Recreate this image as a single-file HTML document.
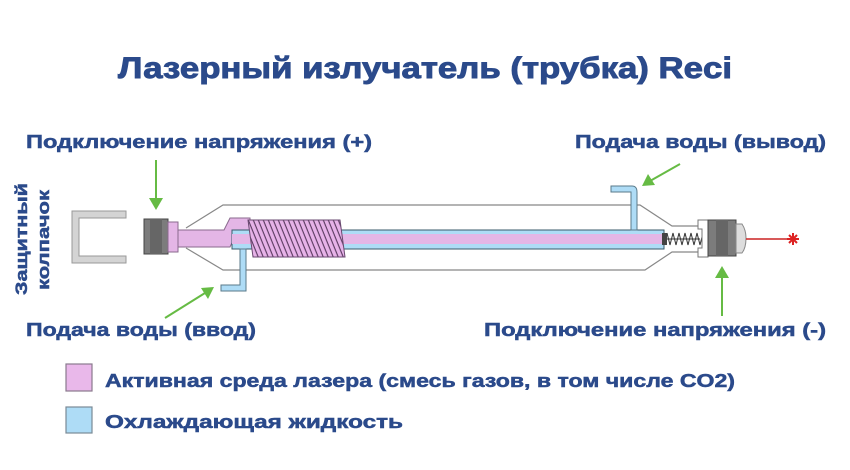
<!DOCTYPE html>
<html><head><meta charset="utf-8"><style>
html,body{margin:0;padding:0;background:#fff;}
svg{display:block}
text{font-family:"Liberation Sans",sans-serif;font-weight:bold;fill:#2b4a8b;stroke:#2b4a8b;stroke-width:0.5}
</style></head><body>
<svg width="850" height="470" viewBox="0 0 850 470" xmlns="http://www.w3.org/2000/svg">
<defs>
<pattern id="coil" width="5" height="40" patternUnits="userSpaceOnUse" patternTransform="skewX(22)">
<rect width="5" height="40" fill="#e6b2e8"/>
<rect x="3.8" width="1.2" height="40" fill="#5a3a60"/>
</pattern>
</defs>
<rect width="850" height="470" fill="#fff"/>
<text x="118" y="78" font-size="30" textLength="614" lengthAdjust="spacingAndGlyphs" style="stroke-width:0.9">Лазерный излучатель (трубка) Reci</text>
<text x="26" y="148" font-size="18" textLength="346" lengthAdjust="spacingAndGlyphs">Подключение напряжения (+)</text>
<text x="575" y="148" font-size="18" textLength="251" lengthAdjust="spacingAndGlyphs">Подача воды (вывод)</text>
<text x="26" y="336" font-size="18" textLength="230" lengthAdjust="spacingAndGlyphs">Подача воды (ввод)</text>
<text x="484" y="336" font-size="18" textLength="342" lengthAdjust="spacingAndGlyphs">Подключение напряжения (-)</text>
<text transform="translate(27,295) rotate(-90)" font-size="17" textLength="112" lengthAdjust="spacingAndGlyphs">Защитный</text>
<text transform="translate(49,290) rotate(-90)" font-size="17" textLength="100" lengthAdjust="spacingAndGlyphs">колпачок</text>
<rect x="66" y="364" width="26" height="27" fill="#e9b8ea" stroke="#8a7a8e" stroke-width="1.2"/>
<text x="105" y="387" font-size="18" textLength="630" lengthAdjust="spacingAndGlyphs">Активная среда лазера (смесь газов, в том числе CO2)</text>
<rect x="66" y="407" width="26" height="26" fill="#aedcf6" stroke="#7a8a96" stroke-width="1.2"/>
<text x="105" y="428" font-size="18" textLength="298" lengthAdjust="spacingAndGlyphs">Охлаждающая жидкость</text>

<path d="M72 211 H126 V218 H79 V256 H126 V263 H72 Z" fill="#d4d4d4" stroke="#999" stroke-width="1"/>
<path d="M186 228 L223 205 H640 L672 226 H700 M186 248 L223 270 H645 L672 252 H700" fill="none" stroke="#888" stroke-width="1.2"/>
<rect x="144" y="219" width="24" height="35" fill="#7c7c7c" stroke="#444" stroke-width="1"/>
<rect x="150" y="219" width="12" height="35" fill="#666"/>
<rect x="168" y="222" width="10" height="30" fill="#e4b6e6" stroke="#8a6a8e" stroke-width="1"/>
<path d="M178 230 H224 L230 218 H250 V234 H236 L230 247 H178 Z" fill="#e4b6e6" stroke="#8a6a8e" stroke-width="1"/>
<rect x="232" y="230" width="432" height="19" fill="#aedcf6" stroke="#3a5a6a" stroke-width="1"/>
<rect x="232" y="234" width="431" height="10" fill="#e4b6e6"/>
<rect x="662" y="233" width="5" height="12" fill="#444"/>
<path d="M240 249 V285 H221 V291 H246 V249 Z" fill="#aedcf6" stroke="#5a7a8a" stroke-width="1"/>
<path d="M611 186 H632 Q637 186 637 192 V230 H631 V192 H611 Z" fill="#aedcf6" stroke="#5a7a8a" stroke-width="1"/>
<path d="M248 220 H340 L345 257 H253 Z" fill="url(#coil)" stroke="#6a4a70" stroke-width="1"/>
<g stroke="#333" stroke-width="1">
<path d="M667 233 l3 12 l3 -12 l3 12 l3 -12 l3 12 l3 -12 l3 12 l3 -12 l3 12 l3 -12 l3 12 l3 -12 l3 12" fill="none"/>
<line x1="667" y1="239" x2="700" y2="239"/>
</g>
<path d="M698 220 H708 V257 H698 V248 H702 V229 H698 Z" fill="#fff" stroke="#777" stroke-width="1"/>
<rect x="708" y="220" width="28" height="36" fill="#7c7c7c" stroke="#444" stroke-width="1"/>
<rect x="716" y="220" width="12" height="36" fill="#666"/>
<path d="M736 224 H742 Q746 230 746 238 Q746 248 742 253 H736 Z" fill="#ddd" stroke="#888" stroke-width="1"/>
<line x1="746" y1="239" x2="790" y2="239" stroke="#c22" stroke-width="1.6"/>
<g stroke="#d22" stroke-width="2">
<line x1="793" y1="233" x2="793" y2="245"/>
<line x1="787" y1="239" x2="799" y2="239"/>
<line x1="789" y1="235" x2="797" y2="243"/>
<line x1="797" y1="235" x2="789" y2="243"/>
</g>
<g stroke="#66bb44" stroke-width="2" fill="#66bb44">
<line x1="156" y1="160" x2="156" y2="200"/>
<path d="M149 198 L163 198 L156 210 Z" stroke="none"/>
<line x1="680" y1="164" x2="650" y2="181"/>
<path d="M642 186 L648 174 L655 185 Z" stroke="none"/>
<line x1="165" y1="318" x2="205" y2="293"/>
<path d="M214 287 L201 288 L208 299 Z" stroke="none"/>
<line x1="722" y1="316" x2="722" y2="276"/>
<path d="M715 278 L729 278 L722 266 Z" stroke="none"/>
</g>
</svg>
</body></html>
